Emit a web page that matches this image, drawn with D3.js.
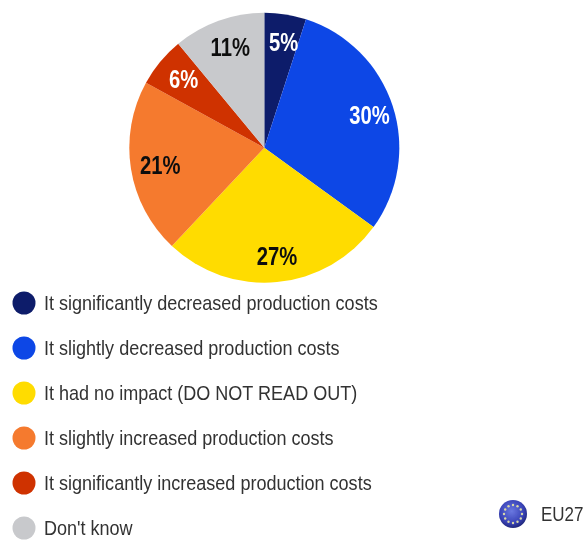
<!DOCTYPE html>
<html><head><meta charset="utf-8">
<script src="https://cdn.jsdelivr.net/npm/d3@7"></script>
<style>html,body{margin:0;padding:0;background:#fff}svg{display:block}</style>
</head><body><svg id="c" width="587" height="540"></svg>
<script>
const categories=["It significantly decreased production costs","It slightly decreased production costs","It had no impact (DO NOT READ OUT)","It slightly increased production costs","It significantly increased production costs","Don't know"];
const values=[5,30,27,21,6,11];
const colors=["#0f1f6b","#0a46e6","#ffdc00","#f57a2e","#cf3300","#c8c9cc"];
const labelColors=["#fff","#fff","#111","#111","#fff","#111"];
const seriesName="EU27";

const svg=d3.select("#c");
const defs=svg.append("defs");
defs.append("filter").attr("id","soft").attr("x","-5%").attr("y","-5%").attr("width","110%").attr("height","110%")
  .append("feGaussianBlur").attr("stdDeviation",0.45);
const grad=defs.append("radialGradient").attr("id","globe").attr("cx","45%").attr("cy","40%").attr("r","65%");
grad.append("stop").attr("offset","0%").attr("stop-color","#6a78e0");
grad.append("stop").attr("offset","65%").attr("stop-color","#3a44b8");
grad.append("stop").attr("offset","100%").attr("stop-color","#1a1f6c");

const root=svg.append("g").attr("filter","url(#soft)");
const cx=264.3,cy=147.7,R=135;
const pie=d3.pie().sort(null).value(d=>d)(values);
const arc=d3.arc().innerRadius(0).outerRadius(R);
const labelArc=d3.arc().innerRadius(108).outerRadius(108);
const g=root.append("g").attr("transform",`translate(${cx},${cy})`);
g.selectAll("path").data(pie).join("path").attr("d",arc).attr("fill",(d,i)=>colors[i]);
g.selectAll("text").data(pie).join("text")
  .attr("transform",d=>{const[p,q]=labelArc.centroid(d);return `translate(${p+2.5},${q+0.5}) scale(0.81,1)`;})
  .attr("text-anchor","middle").attr("dy","0.36em")
  .attr("font-family","'Liberation Sans',Arial,sans-serif").attr("font-weight","bold").attr("font-size",25)
  .attr("fill",(d,i)=>labelColors[i]).text(d=>d.value+"%");

const y=d3.scalePoint().domain(d3.range(categories.length)).range([303,528]);
const leg=root.append("g").selectAll("g").data(categories).join("g").attr("transform",(d,i)=>`translate(0,${y(i)})`);
leg.append("circle").attr("cx",24).attr("r",11.5).attr("fill",(d,i)=>colors[i]);
leg.append("text").attr("transform","translate(44,0) scale(0.859,1)").attr("dy","0.35em")
  .attr("font-family","'Liberation Sans',Arial,sans-serif").attr("font-size",21).attr("fill","#333").text(d=>d);

const eu=root.append("g").attr("transform","translate(513,514)");
eu.append("circle").attr("r",14).attr("fill","url(#globe)");
eu.selectAll("rect").data(d3.range(12)).join("circle")
  .attr("cx",d=>9*Math.sin(d*Math.PI/6)).attr("cy",d=>-9*Math.cos(d*Math.PI/6)).attr("r",1.2).attr("fill","#d8d8a8");
root.append("text").attr("transform","translate(541,514) scale(0.81,1)").attr("dy","0.35em")
  .attr("font-family","'Liberation Sans',Arial,sans-serif").attr("font-size",21).attr("fill","#333").text(seriesName);
</script></body></html>
